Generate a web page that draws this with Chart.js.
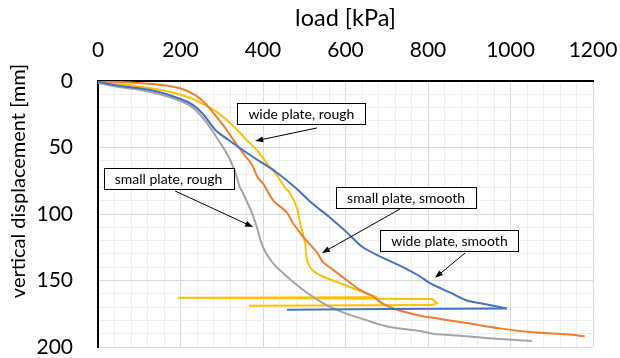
<!DOCTYPE html>
<html>
<head>
<meta charset="utf-8">
<script src="https://cdn.jsdelivr.net/npm/chart.js@4.4.0/dist/chart.umd.min.js"></script>
<style>
  html, body { margin: 0; padding: 0; background: #fff; }
  #wrap { width: 620px; height: 358px; }
</style>
</head>
<body>
<div id="wrap"><canvas id="chart" width="620" height="358"></canvas></div>
<script>
// load [kPa] / vertical displacement [mm]
const wideSmoothLoad = [0, 50, 100, 150, 200, 230, 255, 285, 315, 356, 400, 430, 478, 519, 560, 604, 642, 691, 739, 781, 805, 853, 894, 943, 991];
const wideSmoothDisp = [0.5, 3.5, 5.5, 8.5, 13.5, 18, 25, 37, 44, 53, 62, 68, 80, 92, 102, 114, 125, 133, 140, 147, 152, 159, 165, 168, 171];
const wideSmoothUnloadLoad = [991, 700, 458];
const wideSmoothUnloadDisp = [171, 171.5, 172];

const smallSmoothLoad = [0, 73, 155, 204, 235, 259, 284, 308, 332, 356, 373, 388, 400, 424, 458, 473, 497, 531, 545, 570, 604, 635, 667, 688, 725, 781, 812, 894, 974, 1054, 1137, 1180];
const smallSmoothDisp = [0, 1, 3, 6, 10.5, 16.5, 25.6, 35, 46, 56, 63, 73, 77, 89.5, 99, 107, 117, 129, 136, 142, 150, 157, 162, 167, 172, 176.5, 178, 182, 186, 189, 190.5, 192];

const smallRoughLoad = [0, 50, 100, 150, 200, 230, 260, 291, 315, 332, 344, 351, 373, 385, 400, 424, 458, 497, 545, 594, 652, 708, 781, 812, 894, 974, 1052];
const smallRoughDisp = [1.5, 4.5, 6.5, 10, 15, 20, 30, 44, 56, 68, 80, 84, 99, 110, 125, 137, 147, 157, 167, 174, 180, 185, 188, 190, 192, 194, 195.5];

const wideRoughLoad = [0, 73, 155, 218, 259, 291, 325, 356, 388, 412, 434, 453, 465, 482, 490, 502, 507, 519, 545, 587, 628, 659, 676];
const wideRoughDisp = [0, 3, 7, 12, 18, 24, 33, 43, 53, 63, 71, 80, 84, 95, 107, 122, 135, 142, 147, 152, 157, 161, 162.5];
const wideRoughUnloadLoad = [676, 194, 810, 822, 810, 366];
const wideRoughUnloadDisp = [162.5, 163, 164, 167, 168.5, 169];

const notes = [
  { text: "wide plate, rough", x: 493, y: 24.4, fromX: 531, fromY: 35.3, toX: 381, toY: 45.1 },
  { text: "small plate, rough", x: 171, y: 73, fromX: 187, fromY: 82.7, toX: 376, toY: 109.8 },
  { text: "small plate, smooth", x: 747, y: 87.6, fromX: 732, fromY: 96.3, toX: 543, toY: 129.3 },
  { text: "wide plate, smooth", x: 852, y: 120, fromX: 890, fromY: 129.3, toX: 817, toY: 148 }
];

const FONT = "Lato, 'Open Sans', sans-serif";

function pts(xs, ys) {
    return xs.map((x, i) => ({ x: x, y: ys[i] }));
}

function series(xs, ys, color, tension) {
    return {
        data: pts(xs, ys),
        borderColor: color,
        borderWidth: 2,
        pointRadius: 0,
        showLine: true,
        fill: false,
        tension: tension
    };
}

const notesPlugin = {
    id: "notes",
    afterDatasetsDraw(chart) {
        const ctx = chart.ctx;
        const xs = chart.scales.x;
        const ys = chart.scales.y;
        ctx.save();
        ctx.font = "14px " + FONT;
        notes.forEach(n => {
            // arrow
            const x1 = xs.getPixelForValue(n.fromX), y1 = ys.getPixelForValue(n.fromY);
            const x2 = xs.getPixelForValue(n.toX), y2 = ys.getPixelForValue(n.toY);
            const a = Math.atan2(y2 - y1, x2 - x1);
            ctx.strokeStyle = "#000";
            ctx.fillStyle = "#000";
            ctx.lineWidth = 1;
            ctx.beginPath();
            ctx.moveTo(x1, y1);
            ctx.lineTo(x2 - 5 * Math.cos(a), y2 - 5 * Math.sin(a));
            ctx.stroke();
            ctx.beginPath();
            ctx.moveTo(x2, y2);
            ctx.lineTo(x2 - 8 * Math.cos(a) + 3 * Math.sin(a), y2 - 8 * Math.sin(a) - 3 * Math.cos(a));
            ctx.lineTo(x2 - 8 * Math.cos(a) - 3 * Math.sin(a), y2 - 8 * Math.sin(a) + 3 * Math.cos(a));
            ctx.closePath();
            ctx.fill();
            // box
            const cx = xs.getPixelForValue(n.x), cy = ys.getPixelForValue(n.y);
            const w = Math.round(ctx.measureText(n.text).width + 22);
            const h = 21;
            const bx = Math.round(cx - w / 2) + 0.5, by = Math.round(cy - h / 2) + 0.5;
            ctx.fillStyle = "#fff";
            ctx.fillRect(bx, by, w, h);
            ctx.strokeStyle = "#000";
            ctx.strokeRect(bx, by, w, h);
            ctx.fillStyle = "#000";
            ctx.textAlign = "center";
            ctx.textBaseline = "middle";
            ctx.fillText(n.text, cx, cy + 1);
        });
        // y axis title
        ctx.font = "20px " + FONT;
        ctx.translate(19, 181);
        ctx.rotate(-Math.PI / 2);
        ctx.textAlign = "center";
        ctx.textBaseline = "middle";
        ctx.fillStyle = "#000";
        ctx.fillText("vertical displacement [mm]", 0, 0);
        ctx.restore();
    }
};

const gridColor = (major) => (c) => (c.tick && Math.round(c.tick.value) % major === 0) ? "#d9d9d9" : "#eeeeee";

new Chart(document.getElementById("chart"), {
    type: "scatter",
    data: {
        datasets: [
            series(wideSmoothLoad, wideSmoothDisp, "#4472C4", 0.3),
            series(wideSmoothUnloadLoad, wideSmoothUnloadDisp, "#4472C4", 0),
            series(smallSmoothLoad, smallSmoothDisp, "#ED7D31", 0.3),
            series(smallRoughLoad, smallRoughDisp, "#A5A5A5", 0.3),
            series(wideRoughLoad, wideRoughDisp, "#FFC000", 0.3),
            series(wideRoughUnloadLoad, wideRoughUnloadDisp, "#FFC000", 0)
        ]
    },
    options: {
        responsive: false,
        animation: false,
        layout: { padding: { left: 0, right: 27, top: 0, bottom: 11 } },
        plugins: {
            legend: { display: false },
            tooltip: { enabled: false }
        },
        scales: {
            x: {
                type: "linear",
                position: "top",
                min: 0,
                max: 1200,
                ticks: {
                    stepSize: 40,
                    autoSkip: false,
                    maxRotation: 0,
                    padding: 18,
                    color: "#000",
                    font: { family: FONT, size: 21 },
                    callback: v => Math.round(v) % 200 === 0 ? v : ""
                },
                grid: { color: gridColor(200), drawTicks: false },
                border: { color: "#000", width: 2 },
                title: {
                    display: true,
                    text: "load [kPa]",
                    color: "#000",
                    font: { family: FONT, size: 23.5 },
                    padding: { top: 4, bottom: 0 }
                },
                afterFit: s => { s.height = 81; s.paddingLeft = 0; s.paddingRight = 0; }
            },
            y: {
                type: "linear",
                reverse: true,
                min: 0,
                max: 200,
                ticks: {
                    stepSize: 10,
                    autoSkip: false,
                    padding: 25,
                    color: "#000",
                    font: { family: FONT, size: 21 },
                    callback: v => Math.round(v) % 50 === 0 ? v : ""
                },
                grid: { color: gridColor(50), drawTicks: false },
                border: { color: "#000", width: 2 },
                afterFit: s => { s.width = 98; s.paddingTop = 0; s.paddingBottom = 0; }
            }
        }
    },
    plugins: [notesPlugin]
});
</script>
</body>
</html>
